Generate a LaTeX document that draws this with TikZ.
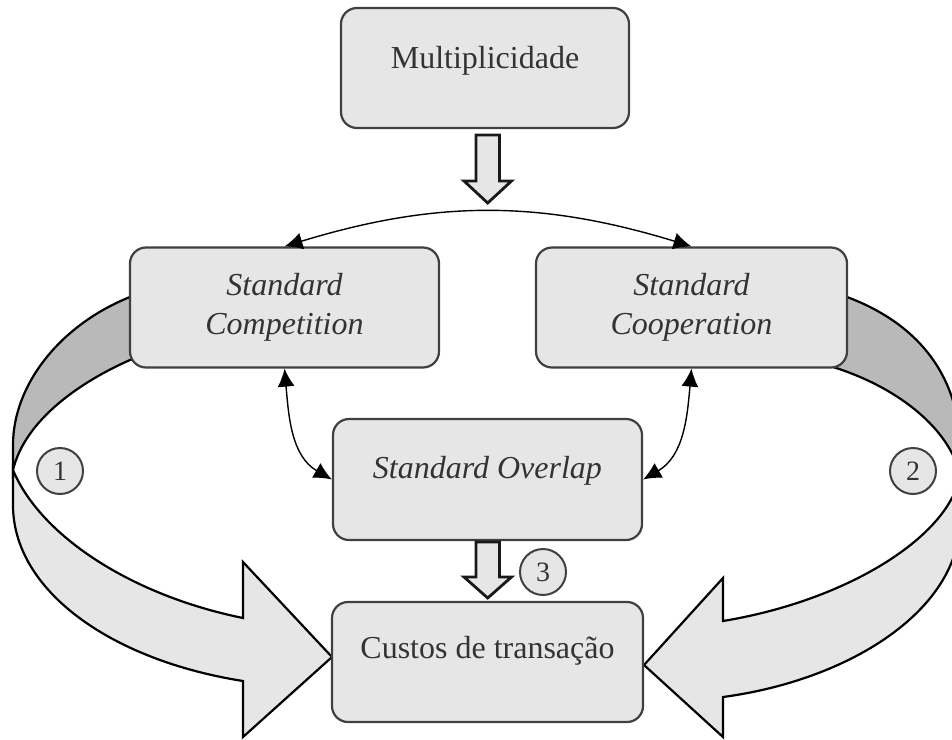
\documentclass[tikz,border=0pt]{standalone}
\usepackage{fontspec}
\setmainfont{Liberation Serif}
\usetikzlibrary{arrows.meta}
\definecolor{boxfill}{HTML}{E6E6E6}
\definecolor{bandback}{HTML}{B9B9B9}
\definecolor{boxline}{HTML}{404040}
\definecolor{textcol}{HTML}{333333}
\tikzset{
  box/.style={draw=boxline, line width=1.1pt, fill=boxfill, rounded corners=8pt,
    minimum height=60pt, inner sep=0pt, text=textcol,
    font=\fontsize{16}{19.5}\selectfont, text height=8pt, text depth=8pt},
  twoline/.style={align=center, text height=34.5pt, text depth=8pt},
  numcirc/.style={circle, draw=boxline, line width=1pt, fill=boxfill,
    minimum size=23pt, inner sep=0pt, text=textcol, font=\fontsize{14}{15}\selectfont},
  conn/.style={line width=0.7pt, {Latex[length=9pt,width=8.5pt]}-{Latex[length=9pt,width=8.5pt]}},
  blockarrow/.style={draw=black!90, line width=1.4pt, fill=boxfill, line join=miter},
  bigarrow/.style={draw=black, line width=1.1pt, fill=boxfill, line join=miter},
  backband/.style={draw=black, line width=1.1pt, fill=bandback, line join=miter},
}
\begin{document}
\begin{tikzpicture}[x=0.5pt,y=0.5pt]
\useasboundingbox (0,0) rectangle (952,-739);
\begin{scope}
\clip (0,0) rectangle (952,-739);
% left ribbon, back part
\path[backband] (140,-293) -- (130,-297) .. controls (60,-325) and (13,-385) .. (13,-445)
  -- (13,-470) .. controls (25,-420) and (80,-382) .. (130,-360) -- (140,-358) -- cycle;
% left ribbon, front part with head
\path[bigarrow] (13,-470) .. controls (40,-535) and (130,-595) .. (243,-618)
  -- (243,-562) -- (332,-657) -- (243,-737) -- (243,-681)
  .. controls (110,-660) and (13,-590) .. (13,-505) -- cycle;
% right ribbon, back part
\path[backband] (830,-290) -- (847,-297) .. controls (922,-325) and (960,-380) .. (960,-450)
  -- (960,-475) .. controls (950,-430) and (900,-388) .. (833,-367) -- (825,-362) -- cycle;
% right ribbon, front part with head
\path[bigarrow] (960,-475) .. controls (950,-535) and (850,-600) .. (723,-621)
  -- (723,-578) -- (644,-665) -- (723,-737) -- (723,-697)
  .. controls (850,-680) and (960,-610) .. (960,-520) -- cycle;
\end{scope}

\node[box, minimum width=144pt] (mult) at (485,-68) {Multiplicidade};
\node[box, twoline, minimum width=154.5pt] (comp) at (284.5,-307.5) {\itshape Standard\\\itshape Competition};
\node[box, twoline, minimum width=155.5pt] (coop) at (691.5,-307.5) {\itshape Standard\\\itshape Cooperation};
\node[box, minimum width=154.5pt, minimum height=60.5pt, text depth=9.5pt] (over) at (487.5,-479.5) {\itshape Standard Overlap};
\node[box, minimum width=155.5pt, text depth=12pt] (cust) at (487.5,-662) {Custos de transação};

\node[numcirc] (n1) at (60,-471) {1};
\node[numcirc] (n2) at (913,-471) {2};
\node[numcirc] (n3) at (543,-572) {3};

\draw[conn] (comp.north) to[bend left=17] (coop.north);
\draw[conn] (comp.south) to[out=-85, in=150] (over.west);
\draw[conn] (coop.south) to[out=-95, in=30] (over.east);

% block arrows
\path[blockarrow] (476,-135) -- (499.5,-135) -- (499.5,-181) -- (511.5,-181) -- (487.7,-203)
  -- (464,-181) -- (476,-181) -- cycle;
\path[blockarrow] (476,-542) -- (499.5,-542) -- (499.5,-577) -- (511.5,-577) -- (487.7,-598)
  -- (464,-577) -- (476,-577) -- cycle;
\end{tikzpicture}
\end{document}
